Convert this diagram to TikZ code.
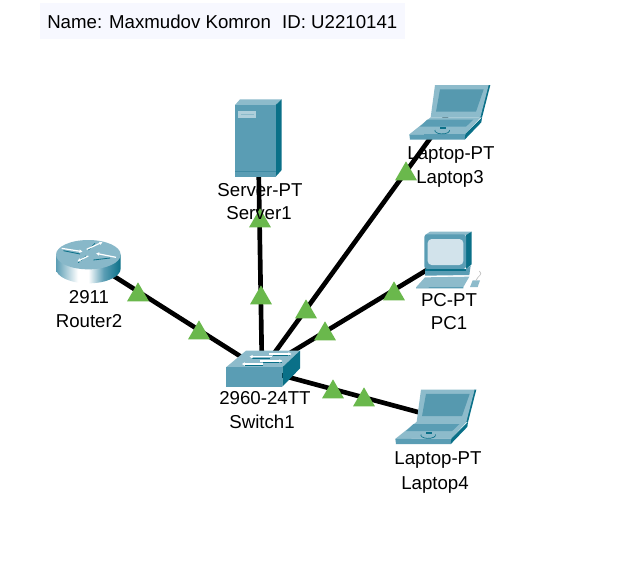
\documentclass[tikz,border=0pt]{standalone}
\usepackage{fontspec}
\setmainfont{Liberation Sans}
\usetikzlibrary{shapes.geometric,arrows.meta}
\definecolor{fronttl}{HTML}{5A9DB4}
\definecolor{toptl}{HTML}{8DBBCB}
\definecolor{sidetl}{HTML}{0A7088}
\definecolor{deeptl}{HTML}{3F8AA3}
\definecolor{linkgreen}{HTML}{6AB84C}
\definecolor{paneltint}{HTML}{F7F8FF}
\definecolor{screenpale}{HTML}{D2E3EB}
\pgfdeclarehorizontalshading{routerbody}{100bp}{color(0bp)=(fronttl); color(25bp)=(fronttl); color(42bp)=(white); color(50bp)=(white); color(62bp)=(fronttl); color(75bp)=(sidetl); color(100bp)=(sidetl)}
\tikzset{
  lbl/.style={font=\fontsize{14}{16}\selectfont,inner sep=0pt,text=black},
  titlelbl/.style={font=\fontsize{14}{16}\selectfont,inner sep=0pt,text=black},
  linkline/.style={line width=3.5pt,black},
  linkmark/.style={regular polygon,regular polygon sides=3,fill=linkgreen,minimum size=19pt,inner sep=0pt},
  port/.style={inner sep=0pt,minimum size=0pt},
  icon/.style={x=.25pt,y=-.25pt},
  whitearrow/.style={white,line width=.9pt,-{Latex[length=2.4pt,width=2.8pt]}},
  shadowline/.style={sidetl,line width=.6pt},
}
\newcommand{\laptopicon}[2]{%
\begin{scope}[shift={(#1,#2)},icon]
  \fill[sidetl] (295,30)--(301,30)--(276,128)--(268,128)--cycle;
  \fill[toptl] (135,30)--(296,30)--(271,127)--(122,127)--cycle;
  \fill[deeptl!70!toptl] (150,43)--(281,43)--(258,110)--(138,110)--cycle;
  \fill[toptl] (122,127)--(272,127)--(226,177)--(58,178)--cycle;
  \fill[fronttl] (112,134)--(250,134)--(228,155)--(90,155)--cycle;
  \fill[fronttl] (58,178)--(226,177)--(224,194)--(60,194)--cycle;
  \fill[sidetl] (226,177)--(276,127)--(274,142)--(224,194)--cycle;
  \draw[sidetl,line width=.5pt] (135,165) arc[start angle=190,end angle=-10,x radius=22,y radius=10];
  \fill[sidetl] (150,156) rectangle (168,163);
\end{scope}}
\begin{document}
\begin{tikzpicture}[x=.75pt,y=-.75pt]
\useasboundingbox[fill=white] (0,0) rectangle (638,568);
\fill[paneltint] (40,3) rectangle (405,39);
\node[titlelbl,anchor=west] (title) at (47,22) {Name: Maxmudov Komron\hspace{4.5pt} ID: U2210141};
% device anchors
\node[port] (sw) at (262,370) {};
\node[port] (rt) at (90,261) {};
\node[port] (srv) at (258,130) {};
\node[port] (lp3) at (450,111) {};
\node[port] (pc) at (445,259) {};
\node[port] (lp4) at (440,418) {};
% links
\draw[linkline] (sw.center) -- (rt.center);
\draw[linkline] (sw.center) -- (srv.center);
\draw[linkline] (sw.center) -- (lp3.center);
\draw[linkline] (sw.center) -- (pc.center);
\draw[linkline] (sw.center) -- (lp4.center);
% link lights
\node[linkmark] (m1) at (138,295) {};
\node[linkmark] (m2) at (199,333) {};
\node[linkmark] (m3) at (261,298) {};
\node[linkmark] (m4) at (260,221) {};
\node[linkmark] (m5) at (306,312) {};
\node[linkmark] (m6) at (406,174) {};
\node[linkmark] (m7) at (325,334) {};
\node[linkmark] (m8) at (394,294) {};
\node[linkmark] (m9) at (333,392) {};
\node[linkmark] (m10) at (364,400) {};
% router icon
\begin{scope}[shift={(30,230)},icon]
  \path[shading=routerbody] (78,74) -- (78,116) arc[start angle=180,end angle=0,x radius=97,y radius=44] -- (272,74) -- cycle;
  \fill[toptl!90!fronttl] (175,74) ellipse[x radius=97,y radius=44];
  \draw[shadowline] (100,62)--(150,72) (190,90)--(240,84) (195,40)--(175,60) (168,78)--(145,98);
  \draw[whitearrow] (95,55)--(158,65);
  \draw[whitearrow] (258,82)--(198,70);
  \draw[whitearrow] (170,58)--(218,36);
  \draw[whitearrow] (175,78)--(142,94);
\end{scope}
% server icon
\begin{scope}[shift={(210,90)},icon]
  \fill[toptl] (75,45)--(90,28)--(215,28)--(197,45)--cycle;
  \fill[sidetl] (197,45)--(215,28)--(215,240)--(197,260)--cycle;
  \fill[fronttl] (75,45) rectangle (197,260);
  \fill[toptl!70!white] (85,63) rectangle (138,83);
  \draw[fronttl!70!white,line width=.4pt] (92,72)--(132,72);
  \draw[deeptl,line width=.5pt] (75,243)--(197,243);
\end{scope}
% laptops
\laptopicon{390}{75}
\laptopicon{376}{379.5}
% pc icon
\begin{scope}[shift={(380,225)},icon]
  \fill[toptl] (135,30)--(150,20)--(275,20)--(258,30)--cycle;
  \fill[sidetl] (258,30)--(275,20)--(275,118)--(258,132)--cycle;
  \fill[fronttl,rounded corners=2pt] (133,28) rectangle (258,132);
  \fill[screenpale,rounded corners=3pt] (143,42) rectangle (250,120);
  \fill[fronttl] (135,132)--(258,132)--(272,122)--(268,150)--(135,152)--cycle;
  \fill[sidetl] (135,132)--(258,132)--(258,138)--(135,138)--cycle;
  \fill[toptl] (135,157)--(268,155)--(250,186)--(108,187)--cycle;
  \fill[fronttl] (108,187)--(250,186)--(250,190)--(108,190)--cycle;
  \fill[toptl] (278,166)--(300,166)--(293,186)--(270,186)--cycle;
  \draw[gray!50,line width=.5pt] (288,166) .. controls (295,150) and (310,150) .. (298,138);
\end{scope}
% switch icon
\begin{scope}[shift={(210,335)},icon]
  \fill[toptl] (48,97)--(108,47)--(270,47)--(217,97)--cycle;
  \fill[fronttl] (48,97) rectangle (217,155);
  \fill[sidetl] (217,97)--(270,47)--(270,100)--(217,155)--cycle;
  \draw[shadowline] (125,70)--(180,70) (105,92)--(160,92) (160,82)--(215,82) (190,60)--(240,60);
  \draw[whitearrow] (185,65)--(118,65);
  \draw[whitearrow] (178,57)--(245,57);
  \draw[whitearrow] (160,87)--(95,87);
  \draw[whitearrow] (150,78)--(218,78);
\end{scope}
% labels
\node[lbl] (a1) at (89,297) {2911};
\node[lbl] (a2) at (89,321) {Router2};
\node[lbl] (b1) at (260,190) {Server-PT};
\node[lbl] (b2) at (259,213) {Server1};
\node[lbl] (c1) at (451,155) {Laptop-PT};
\node[lbl] (c2) at (450,179) {Laptop3};
\node[lbl] (d1) at (449,300) {PC-PT};
\node[lbl] (d2) at (449,323) {PC1};
\node[lbl] (e1) at (265,398) {2960-24TT};
\node[lbl] (e2) at (262,422) {Switch1};
\node[lbl] (f1) at (438,460) {Laptop-PT};
\node[lbl] (f2) at (435,485) {Laptop4};
\end{tikzpicture}
\end{document}
